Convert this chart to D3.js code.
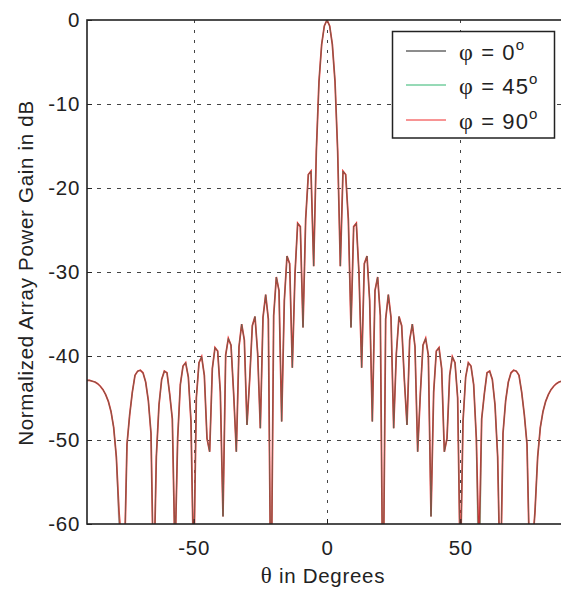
<!DOCTYPE html>
<html>
<head>
<meta charset="utf-8">
<script src="https://cdn.jsdelivr.net/npm/d3@7"></script>
<style>
  html, body { margin: 0; padding: 0; background: #fff; }
  svg { display: block; }
</style>
</head>
<body>
<svg id="chart" width="561" height="590"></svg>
<script>
// ---- data ----
const thetaDeg = [
-90,-89,-88,-87,-86,-85,-84,-83,-82,-81,-80,-79,-78,-77,-76,-75,-74,-73,-72,-71,
-70,-69,-68,-67,-66,-65,-64,-63,-62,-61,-60,-59,-58,-57,-56,-55,-54,-53,-52,-51,
-50,-49,-48,-47,-46,-45,-44,-43,-42,-41,-40,-39,-38,-37,-36,-35,-34,-33,-32,-31,
-30,-29,-28,-27,-26,-25,-24,-23,-22,-21,-20,-19,-18,-17,-16,-15,-14,-13,-12,-11,
-10,-9,-8,-7,-6,-5,-4,-3,-2,-1,0,1,2,3,4,5,6,7,8,9,
10,11,12,13,14,15,16,17,18,19,20,21,22,23,24,25,26,27,28,29,
30,31,32,33,34,35,36,37,38,39,40,41,42,43,44,45,46,47,48,49,
50,51,52,53,54,55,56,57,58,59,60,61,62,63,64,65,66,67,68,69,
70,71,72,73,74,75,76,77,78,79,80,81,82,83,84,85,86,87,88,89,90];

const gainPhi0 = [
-42.9,-42.9,-43.0,-43.1,-43.3,-43.6,-44.0,-44.6,-45.4,-46.6,
-48.5,-52.0,-61.0,-66,-65,-50.5,-47.0,-44.3,-42.3,-41.8,
-41.7,-42.0,-43.1,-45.3,-49.2,-68,-52.0,-45.8,-42.8,-41.8,
-42.0,-44.5,-47.5,-64,-49.8,-43.4,-41.2,-40.8,-42.5,-47.8,
-66,-45.0,-40.8,-40.1,-42.3,-49.8,-51.4,-41.5,-39.0,-39.4,
-44.3,-59.1,-39.9,-37.9,-38.7,-44.5,-51.4,-38.9,-36.2,-38.1,
-48.2,-42.8,-36.4,-35.3,-39.7,-48.6,-35.4,-32.7,-35.6,-72,
-35.2,-30.6,-32.2,-47.8,-33.4,-28.1,-29.0,-41.4,-30.2,-24.2,
-24.6,-36.6,-23.7,-18.4,-18.0,-29.3,-15.6,-7.3,-2.9,-0.7,
0,
-0.7,-2.9,-7.3,-15.6,-29.3,-18.0,-18.4,-23.7,-36.6,
-24.6,-24.2,-30.2,-41.4,-29.0,-28.1,-33.4,-47.8,-32.2,-30.6,
-35.2,-72,-35.6,-32.7,-35.4,-48.6,-39.7,-35.3,-36.4,-42.8,
-48.2,-38.1,-36.2,-38.9,-51.4,-44.5,-38.7,-37.9,-39.9,-59.1,
-44.3,-39.4,-39.0,-41.5,-51.4,-49.8,-42.3,-40.1,-40.8,-45.0,
-66,-47.8,-42.5,-40.8,-41.2,-43.4,-49.8,-64,-47.5,-44.5,
-42.0,-41.8,-42.8,-45.8,-52.0,-68,-49.2,-45.3,-43.1,-42.0,
-41.7,-41.8,-42.3,-44.3,-47.0,-50.5,-65,-63,-58.5,-52.0,
-48.5,-46.6,-45.4,-44.6,-44.0,-43.6,-43.3,-43.1,-43.0,-42.9,-42.9];

const gainPhi45 = [
-42.9,-42.9,-43.0,-43.1,-43.3,-43.6,-44.0,-44.6,-45.4,-46.6,
-48.5,-52.0,-58.5,-63,-65,-50.5,-47.0,-44.3,-42.3,-41.8,
-41.7,-42.0,-43.1,-45.3,-49.2,-68,-52.0,-45.8,-42.8,-41.8,
-42.0,-44.5,-47.5,-64,-49.8,-43.4,-41.2,-40.8,-42.5,-47.8,
-66,-45.0,-40.8,-40.1,-42.3,-49.8,-51.4,-41.5,-39.0,-39.4,
-44.3,-59.1,-39.9,-37.9,-38.7,-44.5,-51.4,-38.9,-36.2,-38.1,
-48.2,-42.8,-36.4,-35.3,-39.7,-48.6,-35.4,-32.7,-35.6,-72,
-35.2,-30.6,-32.2,-47.8,-33.4,-28.1,-29.0,-41.4,-30.2,-24.2,
-24.6,-36.6,-23.7,-18.4,-18.0,-29.3,-15.6,-7.3,-2.9,-0.7,
0,
-0.7,-2.9,-7.3,-15.6,-29.3,-18.0,-18.4,-23.7,-36.6,
-24.6,-24.2,-30.2,-41.4,-29.0,-28.1,-33.4,-47.8,-32.2,-30.6,
-35.2,-72,-35.6,-32.7,-35.4,-48.6,-39.7,-35.3,-36.4,-42.8,
-48.2,-38.1,-36.2,-38.9,-51.4,-44.5,-38.7,-37.9,-39.9,-59.1,
-44.3,-39.4,-39.0,-41.5,-51.4,-49.8,-42.3,-40.1,-40.8,-45.0,
-66,-47.8,-42.5,-40.8,-41.2,-43.4,-49.8,-75,-47.5,-44.5,
-42.0,-41.8,-42.8,-45.8,-52.0,-68,-49.2,-45.3,-43.1,-42.0,
-41.7,-41.8,-42.3,-44.3,-47.0,-50.5,-65,-63,-58.5,-52.0,
-48.5,-46.6,-45.4,-44.6,-44.0,-43.6,-43.3,-43.1,-43.0,-42.9,-42.9];

const gainPhi90 = [
-42.9,-42.9,-43.0,-43.1,-43.3,-43.6,-44.0,-44.6,-45.4,-46.6,
-48.5,-52.0,-58.5,-63,-65,-50.5,-47.0,-44.3,-42.3,-41.8,
-41.7,-42.0,-43.1,-45.3,-49.2,-68,-52.0,-45.8,-42.8,-41.8,
-42.0,-44.5,-47.5,-64,-49.8,-43.4,-41.2,-40.8,-42.5,-47.8,
-66,-45.0,-40.8,-40.1,-42.3,-49.8,-51.4,-41.5,-39.0,-39.4,
-44.3,-59.1,-39.9,-37.9,-38.7,-44.5,-51.4,-38.9,-36.2,-38.1,
-48.2,-42.8,-36.4,-35.3,-39.7,-48.6,-35.4,-32.7,-35.6,-72,
-35.2,-30.6,-32.2,-47.8,-33.4,-28.1,-29.0,-41.4,-30.2,-24.2,
-24.6,-36.6,-23.7,-18.4,-18.0,-29.3,-15.6,-7.3,-2.9,-0.7,
0,
-0.7,-2.9,-7.3,-15.6,-29.3,-18.0,-18.4,-23.7,-36.6,
-24.6,-24.2,-30.2,-41.4,-29.0,-28.1,-33.4,-47.8,-32.2,-30.6,
-35.2,-72,-35.6,-32.7,-35.4,-48.6,-39.7,-35.3,-36.4,-42.8,
-48.2,-38.1,-36.2,-38.9,-51.4,-44.5,-38.7,-37.9,-39.9,-59.1,
-44.3,-39.4,-39.0,-41.5,-51.4,-49.8,-42.3,-40.1,-40.8,-45.0,
-66,-47.8,-42.5,-40.8,-41.2,-43.4,-49.8,-64,-47.5,-44.5,
-42.0,-41.8,-42.8,-45.8,-52.0,-68,-49.2,-45.3,-43.1,-42.0,
-41.7,-41.8,-42.3,-44.3,-47.0,-50.5,-65,-63,-58.5,-52.0,
-48.5,-46.6,-45.4,-44.6,-44.0,-43.6,-43.3,-43.1,-43.0,-42.9,-42.9];

const xTicks = [-50, 0, 50];
const yTicks = [0, -10, -20, -30, -40, -50, -60];
const seriesNames = ["\u03c6 = 0", "\u03c6 = 45", "\u03c6 = 90"];
const seriesColors = ["#1a1a1a", "#2fb56f", "#f02a2a"];

// ---- layout ----
const svg = d3.select("#chart");
const m = { left: 87, top: 20, right: 567, bottom: 524 };
const x = d3.scaleLinear().domain([-90, 90]).range([m.left, m.right]);
const y = d3.scaleLinear().domain([-60, 0]).range([m.bottom, m.top]);
const SANS = "'Liberation Sans', Arial, Helvetica, sans-serif";
const SERIF = "'Liberation Serif', 'Times New Roman', serif";

svg.append("defs").append("clipPath").attr("id", "clip")
  .append("rect").attr("x", m.left).attr("y", m.top)
  .attr("width", m.right - m.left).attr("height", m.bottom - m.top);

// grid lines
const grid = svg.append("g");
grid.selectAll("line.h").data(yTicks.filter(d => d !== 0 && d !== -60)).enter()
  .append("line")
  .attr("x1", m.left).attr("x2", m.right)
  .attr("y1", d => Math.round(y(d)) + 0.5).attr("y2", d => Math.round(y(d)) + 0.5)
  .attr("stroke", "#444").attr("stroke-width", 1).attr("stroke-dasharray", "4,6");
grid.selectAll("line.v").data(xTicks).enter()
  .append("line")
  .attr("x1", d => Math.round(x(d)) + 0.5).attr("x2", d => Math.round(x(d)) + 0.5)
  .attr("y1", m.top).attr("y2", m.bottom)
  .attr("stroke", "#444").attr("stroke-width", 1).attr("stroke-dasharray", "3,7");

// curves
const plot = svg.append("g").attr("clip-path", "url(#clip)");
const mk = vals => thetaDeg.map((t, i) => [t, vals[i]]);
const line = d3.line().x(d => x(d[0])).y(d => y(d[1]));
plot.append("path").datum(mk(gainPhi90)).attr("d", line)
  .attr("fill", "none").attr("stroke", "#ee2a2a").attr("stroke-width", 1.7);
plot.append("path").datum(mk(gainPhi45)).attr("d", line)
  .attr("fill", "none").attr("stroke", "#2fb070").attr("stroke-width", 1.0).attr("stroke-opacity", 0.4);
plot.append("path").datum(mk(gainPhi0)).attr("d", line)
  .attr("fill", "none").attr("stroke", "#555").attr("stroke-width", 1.0).attr("stroke-opacity", 0.45);

// frame
svg.append("rect").attr("x", m.left).attr("y", m.top)
  .attr("width", m.right - m.left).attr("height", m.bottom - m.top)
  .attr("fill", "none").attr("stroke", "#222").attr("stroke-width", 1.6);

// axes (ticks inward, labels)
const fmt = d => String(d);
const xAxis = d3.axisBottom(x).tickValues(xTicks).tickSize(-5).tickPadding(12).tickFormat(fmt);
const gx = svg.append("g").attr("transform", `translate(0,${m.bottom})`).call(xAxis);
gx.select(".domain").remove();
gx.selectAll("line").attr("stroke", "#222");
gx.selectAll("text").attr("font-family", SANS).attr("font-size", 20.5)
  .attr("letter-spacing", 0.7).attr("fill", "#222").attr("dy", "0.95em");

const yAxis = d3.axisLeft(y).tickValues(yTicks).tickSize(-5).tickPadding(7).tickFormat(fmt);
const gy = svg.append("g").attr("transform", `translate(${m.left},0)`).call(yAxis);
gy.select(".domain").remove();
gy.selectAll("line").attr("stroke", "#222");
gy.selectAll("text").attr("font-family", SANS).attr("font-size", 20.5)
  .attr("letter-spacing", 0.7).attr("fill", "#222");

// axis titles
const xt = svg.append("text").attr("x", 323).attr("y", 583).attr("text-anchor", "middle")
  .attr("font-family", SANS).attr("font-size", 20.5).attr("letter-spacing", 0.7).attr("fill", "#222");
xt.append("tspan").attr("font-family", SERIF).attr("font-size", 23).text("\u03b8");
xt.append("tspan").text(" in Degrees");

svg.append("text").attr("transform", `translate(33,${(m.top + m.bottom) / 2 + 1}) rotate(-90)`)
  .attr("text-anchor", "middle")
  .attr("font-family", SANS).attr("font-size", 20.5).attr("letter-spacing", 0.7).attr("fill", "#222")
  .text("Normalized Array Power Gain in dB");

// legend
const lg = svg.append("g");
lg.append("rect").attr("x", 392.5).attr("y", 31.5).attr("width", 162).attr("height", 106.5)
  .attr("fill", "#fff").attr("stroke", "#222").attr("stroke-width", 1.5);
const rowsY = [51, 85, 120];
seriesNames.forEach((name, i) => {
  lg.append("line").attr("x1", 406).attr("x2", 446).attr("y1", rowsY[i]).attr("y2", rowsY[i])
    .attr("stroke", seriesColors[i]).attr("stroke-width", 1);
  const t = lg.append("text").attr("x", 459).attr("y", rowsY[i] + 9)
    .attr("font-family", SANS).attr("font-size", 22).attr("letter-spacing", 1.1).attr("fill", "#222");
  t.append("tspan").attr("font-family", SERIF).attr("font-size", 24).text(name.charAt(0));
  t.append("tspan").text(name.slice(1));
  t.append("tspan").attr("font-size", 15).attr("dy", -10).text("o");
});
</script>
</body>
</html>
